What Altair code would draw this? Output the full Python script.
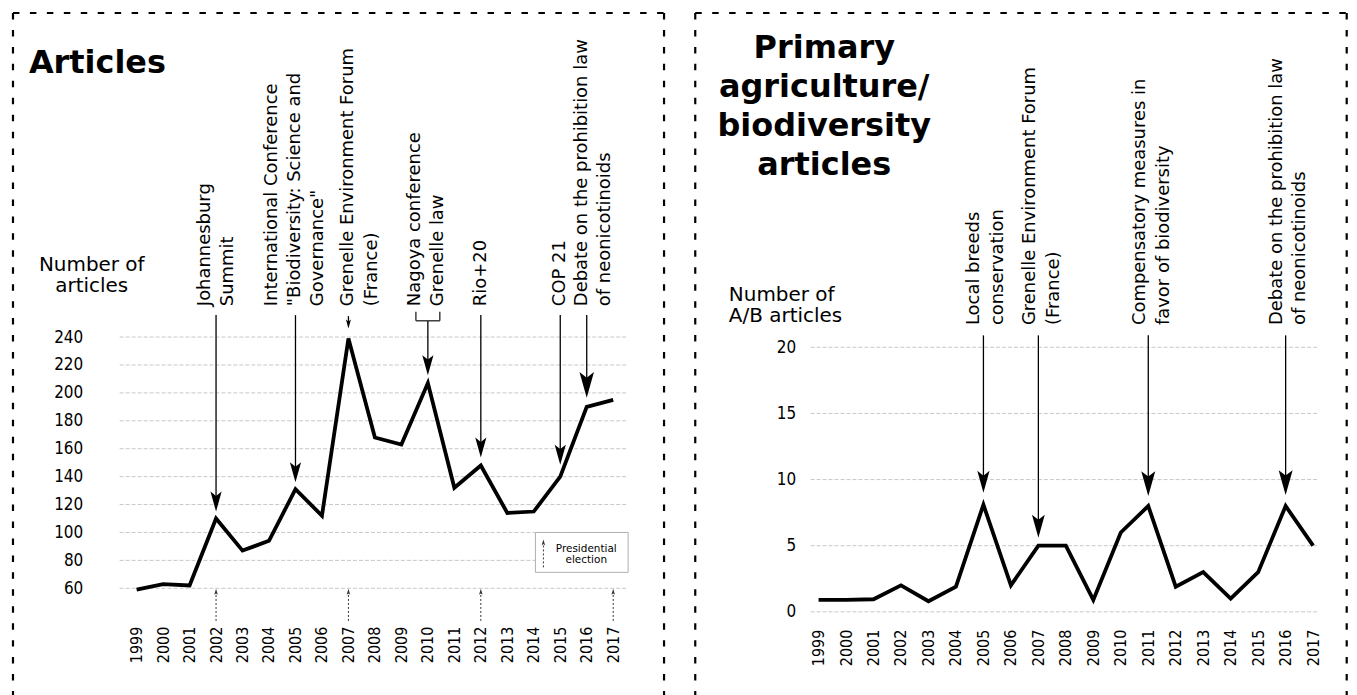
import altair as alt
import pandas as pd

# ---------------- data ----------------
years = list(range(1999, 2018))
articles = [59, 63, 62, 110, 87, 94, 131, 112, 239, 168, 163, 207, 132, 148, 114, 115, 140, 190, 195]
ab_articles = [0.9, 0.9, 0.95, 2, 0.8, 1.9, 8.1, 2, 5, 5, 0.9, 6, 8, 1.9, 3, 1, 3, 8, 5]
left_ticks = [60, 80, 100, 120, 140, 160, 180, 200, 220, 240]
right_ticks = [0, 5, 10, 15, 20]
election_years = [2002, 2007, 2012, 2017]

left_event_years = [2002, 2005, 2007, 2010, 2012, 2015, 2016]
left_event_labels = [
    "Johannesburg\nSummit",
    'International Conference\n"Biodiversity: Science and\nGovernance"',
    "Grenelle Environment Forum\n(France)",
    "Nagoya conference\nGrenelle law",
    "Rio+20",
    "COP 21",
    "Debate on the prohibition law\nof neonicotinoids",
]
right_event_years = [2005, 2007, 2011, 2016]
right_event_labels = [
    "Local breeds\nconservation",
    "Grenelle Environment Forum\n(France)",
    "Compensatory measures in\nfavor of biodiversity",
    "Debate on the prohibition law\nof neonicotinoids",
]

# ---------------- styling ----------------
FONT = "DejaVu Sans"
TICKFONT = "DejaVu Sans Condensed, DejaVu Sans"
DOWN = "M0,0 L-0.28,-1 L0,-0.78 L0.28,-1 Z"
UP = "M0,0 L-0.3,1 L0,0.78 L0.3,1 Z"
W, H = 1201, 275.6
# per annotation: text dy, gap above point, arrow head length, shaft top (px)
left_styles = [(-11, 7, 20, -22), (-24, 7, 20, -22), (0, 10, 9, -21), (-13, 8, 20, -16),
               (0, 8, 20, -22), (0, 12, 20, -22), (-5, 9, 26, -22)]
right_styles = [(-9, 12, 22, -1.7), (-8, 8, 23, -1.7), (-8, 10, 25, -1.7), (-9, 11, 25, -1.7)]

BORDER = dict(color="black", strokeWidth=2.2, strokeDash=[6.5, 10.5])
GRID = dict(color="#c8c8c8", strokeWidth=1, strokeDash=[4, 2])


def one_row():
    return alt.Chart(pd.DataFrame({"k": [0]}))


def panel(series, ticks, ev_years, ev_labels, styles, xdom, ydom, ylabpad, yoffset,
          xlabpad, text_y, grid_x, border):
    X = alt.X("year:Q", scale=alt.Scale(domain=xdom, nice=False, zero=False),
              axis=alt.Axis(orient="bottom", values=years, format="d", labelAngle=270,
                            labelPadding=xlabpad, ticks=False, domain=False, grid=False,
                            labelFontSize=16, labelFont=TICKFONT, labelColor="black",
                            labelFlush=False, labelOverlap=False, title=None))
    Y = alt.Y("value:Q", scale=alt.Scale(domain=ydom, nice=False, zero=False),
              axis=alt.Axis(orient="left", offset=yoffset, values=ticks, labelPadding=ylabpad,
                            ticks=False, domain=False, grid=False, labelFontSize=17,
                            labelFont=TICKFONT, labelColor="black", title=None))
    df = pd.DataFrame({"year": years, "value": series})
    grid = (alt.Chart(pd.DataFrame({"value": ticks}))
            .mark_rule(**GRID)
            .encode(y=Y, x=alt.value(grid_x[0]), x2=alt.value(grid_x[1])))
    layers = [grid,
              alt.Chart(df).mark_line(color="black", strokeWidth=3.8, strokeJoin="miter")
              .encode(x=X, y=Y)]
    for yr, lab, (dy, gap, L, top) in zip(ev_years, ev_labels, styles):
        v = series[years.index(yr)]
        base = alt.Chart(pd.DataFrame({"year": [yr], "value": [v], "label": [lab]}))
        layers.append(base.mark_text(angle=270, align="left", baseline="middle", dy=dy,
                                     fontSize=18, lineHeight=23.5, lineBreak="\n", font=FONT,
                                     color="black")
                      .encode(x=X, y=alt.value(text_y), text="label:N"))
        layers.append(base.mark_rule(color="black", strokeWidth=1.3, yOffset=-(gap + L * 0.5))
                      .encode(x=X, y=Y, y2=alt.value(top)))
        layers.append(base.mark_point(shape=DOWN, size=4 * L * L, filled=True, color="black",
                                      opacity=1, strokeWidth=0, yOffset=-gap)
                      .encode(x=X, y=Y))
    bl, br, bt, bb = border
    o = one_row()
    layers += [
        o.mark_rule(**BORDER).encode(x=alt.value(bl), x2=alt.value(br), y=alt.value(bt)),
        o.mark_rule(**BORDER).encode(x=alt.value(bl), y=alt.value(bt), y2=alt.value(bb)),
        o.mark_rule(**BORDER).encode(x=alt.value(br), y=alt.value(bt), y2=alt.value(bb)),
    ]
    return X, Y, layers


# ---------------- left panel ----------------
XL, YL, left_layers = panel(articles, left_ticks, left_event_years, left_event_labels, left_styles,
                            [1998.3598, 2043.585], [43.143, 240], 37, 0, 14.4, -31,
                            (0, 510), (-107, 546, -325, 368))
# Nagoya bracket
brk = alt.Chart(pd.DataFrame({"year": [2010]}))
left_layers += [
    brk.mark_rule(color="#222", strokeWidth=1.3, xOffset=-12, x2Offset=12)
       .encode(x=XL, x2=alt.X2("year:Q"), y=alt.value(-16.3)),
    brk.mark_rule(color="#222", strokeWidth=1.3, xOffset=-12)
       .encode(x=XL, y=alt.value(-25.3), y2=alt.value(-16.3)),
    brk.mark_rule(color="#222", strokeWidth=1.3, xOffset=12)
       .encode(x=XL, y=alt.value(-25.3), y2=alt.value(-16.3)),
]
# presidential elections
el = alt.Chart(pd.DataFrame({"year": election_years}))
left_layers += [
    el.mark_rule(color="#333", strokeWidth=1, strokeDash=[2, 2])
      .encode(x=XL, y=alt.value(284.7), y2=alt.value(256)),
    el.mark_point(shape=UP, size=144, filled=True, color="#333", opacity=1, strokeWidth=0)
      .encode(x=XL, y=alt.value(252.5)),
]
o = one_row()
left_layers += [
    # legend box
    o.mark_rect(fill="white", stroke="#b0b0b0", strokeWidth=1)
     .encode(x=alt.value(417), x2=alt.value(510), y=alt.value(196), y2=alt.value(236)),
    o.mark_rule(color="#333", strokeWidth=1, strokeDash=[2, 2])
     .encode(x=alt.value(425), y=alt.value(231), y2=alt.value(206)),
    o.mark_point(shape=UP, size=144, filled=True, color="#333", opacity=1, strokeWidth=0)
     .encode(x=alt.value(425), y=alt.value(203)),
    o.mark_text(align="center", baseline="alphabetic", fontSize=10.5, lineHeight=10.7,
                lineBreak="\n", font=FONT, color="black")
     .encode(x=alt.value(468), y=alt.value(215.7), text=alt.value("Presidential\nelection")),
    # title and axis title
    o.mark_text(align="left", baseline="alphabetic", fontSize=32, fontWeight="bold",
                font=FONT, color="black")
     .encode(x=alt.value(-91), y=alt.value(-265), text=alt.value("Articles")),
    o.mark_text(align="center", baseline="alphabetic", fontSize=20, lineHeight=21,
                lineBreak="\n", font=FONT, color="black")
     .encode(x=alt.value(-28), y=alt.value(-66), text=alt.value("Number of\narticles")),
]

# ---------------- right panel ----------------
XR, YR, right_layers = panel(ab_articles, right_ticks, right_event_years, right_event_labels,
                             right_styles, [1973.561, 2017.145], [0, 20.776], 15, -693, 17.4,
                             -12, (693, 1201), (577.3, 1230.7, -325, 368))
o = one_row()
right_layers += [
    o.mark_text(align="center", baseline="alphabetic", fontSize=32, fontWeight="bold",
                lineHeight=39.3, lineBreak="\n", font=FONT, color="black")
     .encode(x=alt.value(706.7), y=alt.value(-280),
             text=alt.value("Primary\nagriculture/\nbiodiversity\narticles")),
    o.mark_text(align="left", baseline="alphabetic", fontSize=20, lineHeight=21,
                lineBreak="\n", font=FONT, color="black")
     .encode(x=alt.value(611), y=alt.value(-36.3), text=alt.value("Number of\nA/B articles")),
]

chart = (alt.layer(alt.layer(*left_layers), alt.layer(*right_layers))
         .resolve_scale(x="independent", y="independent")
         .properties(width=W, height=H,
                     autosize=alt.AutoSizeParams(type="none"),
                     padding={"left": 112, "top": 329, "right": 32, "bottom": 88})
         .configure(font=FONT)
         .configure_view(strokeWidth=0))

chart.save("out.html", embed_options={"renderer": "svg", "actions": False})
